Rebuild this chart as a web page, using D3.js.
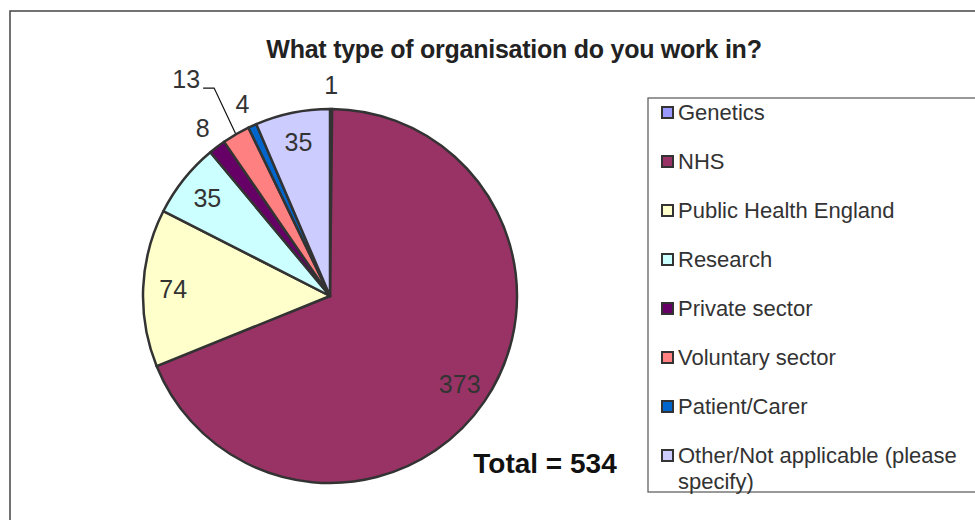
<!DOCTYPE html>
<html>
<head>
<meta charset="utf-8">
<script src="https://cdn.jsdelivr.net/npm/d3@7"></script>
<style>
  body { margin: 0; background: #fff; }
  svg { display: block; font-family: Arial, "Liberation Sans", sans-serif; }
</style>
</head>
<body>
<svg id="chart" width="975" height="520"></svg>
<script>
var categories = ['Genetics', 'NHS', 'Public Health England', 'Research', 'Private sector',
                  'Voluntary sector', 'Patient/Carer', 'Other/Not applicable (please specify)'];
var values = [1, 373, 74, 35, 8, 13, 4, 35];
var colors = ['#9999ff', '#993366', '#ffffcc', '#ccffff', '#660066', '#ff8080', '#0066cc', '#ccccff'];
var totalText = 'Total = 534';
var titleText = 'What type of organisation do you work in?';

var svg = d3.select('#chart');
var cx = 330, cy = 296, radius = 187;

// outer frame
svg.append('rect')
    .attr('x', 10).attr('y', 11)
    .attr('width', 1000).attr('height', 600)
    .style('fill', 'none').style('stroke', '#444').style('stroke-width', 1.5);

svg.append('text')
    .attr('x', 514).attr('y', 58)
    .attr('text-anchor', 'middle')
    .style('font-size', '25px').style('font-weight', 'bold')
    .style('letter-spacing', '-0.25px')
    .style('fill', '#222')
    .text(titleText);

var data = categories.map(function(c, i) { return {name: c, value: values[i], color: colors[i]}; });

var pie = d3.pie().sort(null).value(function(d) { return d.value; });
var arcs = pie(data);
var arc = d3.arc().innerRadius(0).outerRadius(radius);
var innerLabel = d3.arc().innerRadius(157).outerRadius(157);
var outerLabel = d3.arc().innerRadius(211).outerRadius(211);
var rimArc = d3.arc().innerRadius(radius + 1).outerRadius(radius + 1);

var pieG = svg.append('g').attr('transform', 'translate(' + cx + ',' + cy + ')');

pieG.selectAll('.slice')
    .data(arcs)
    .enter().append('path')
    .attr('class', 'slice')
    .attr('d', arc)
    .style('fill', function(d) { return d.data.color; })
    .style('stroke', '#333')
    .style('stroke-width', 2.5)
    .style('stroke-linejoin', 'round');

// small slices get their labels outside the pie
var outside = ['Genetics', 'Private sector', 'Patient/Carer'];

pieG.selectAll('.val')
    .data(arcs.filter(function(d) { return d.data.name != 'Voluntary sector'; }))
    .enter().append('text')
    .attr('class', 'val')
    .attr('transform', function(d) {
        var p = outside.indexOf(d.data.name) >= 0 ? outerLabel.centroid(d) : innerLabel.centroid(d);
        return 'translate(' + p + ')';
    })
    .attr('text-anchor', 'middle')
    .attr('dy', '0.36em')
    .style('font-size', '25px')
    .style('fill', '#333')
    .text(function(d) { return d.value; });

// voluntary sector label with leader line
var vol = arcs[5];
var mid = (vol.startAngle + vol.endAngle) / 2;
var p0 = rimArc.centroid(vol);
var p1 = [Math.sin(mid + 0.018) * 238, -Math.cos(mid + 0.018) * 238];
var p2 = [p1[0] - 11, p1[1]];
pieG.append('polyline')
    .attr('points', [p0, p1, p2].map(function(p) { return p.join(','); }).join(' '))
    .style('fill', 'none').style('stroke', '#111').style('stroke-width', 1.2);
pieG.append('text')
    .attr('x', p2[0] - 3).attr('y', p2[1] - 9)
    .attr('text-anchor', 'end')
    .attr('dy', '0.36em')
    .style('font-size', '25px')
    .style('fill', '#333')
    .text(vol.value);

svg.append('text')
    .attr('x', 545).attr('y', 473)
    .attr('text-anchor', 'middle')
    .style('font-size', '28px').style('font-weight', 'bold')
    .style('fill', '#111')
    .text(totalText);

// legend
var legend = svg.append('g');
legend.append('rect')
    .attr('x', 648).attr('y', 98)
    .attr('width', 400).attr('height', 394)
    .style('fill', '#fff').style('stroke', '#555').style('stroke-width', 1.2);

var legendY = d3.scalePoint().domain(categories).range([112, 455]);

var items = legend.selectAll('.item')
    .data(data)
    .enter().append('g')
    .attr('class', 'item')
    .attr('transform', function(d) { return 'translate(661,' + legendY(d.name) + ')'; });

items.append('rect')
    .attr('x', 1).attr('y', -5)
    .attr('width', 11).attr('height', 11)
    .style('fill', function(d) { return d.color; })
    .style('stroke', '#333').style('stroke-width', 2);

items.append('text')
    .attr('x', 17)
    .style('font-size', '22px')
    .style('fill', '#333')
    .each(function(d) {
        var t = d3.select(this);
        var parts = d.name == categories[7] ? ['Other/Not applicable (please', 'specify)'] : [d.name];
        parts.forEach(function(s, i) {
            t.append('tspan').attr('x', 17).attr('dy', i == 0 ? '0.36em' : '1.2em').text(s);
        });
    });
</script>
</body>
</html>
